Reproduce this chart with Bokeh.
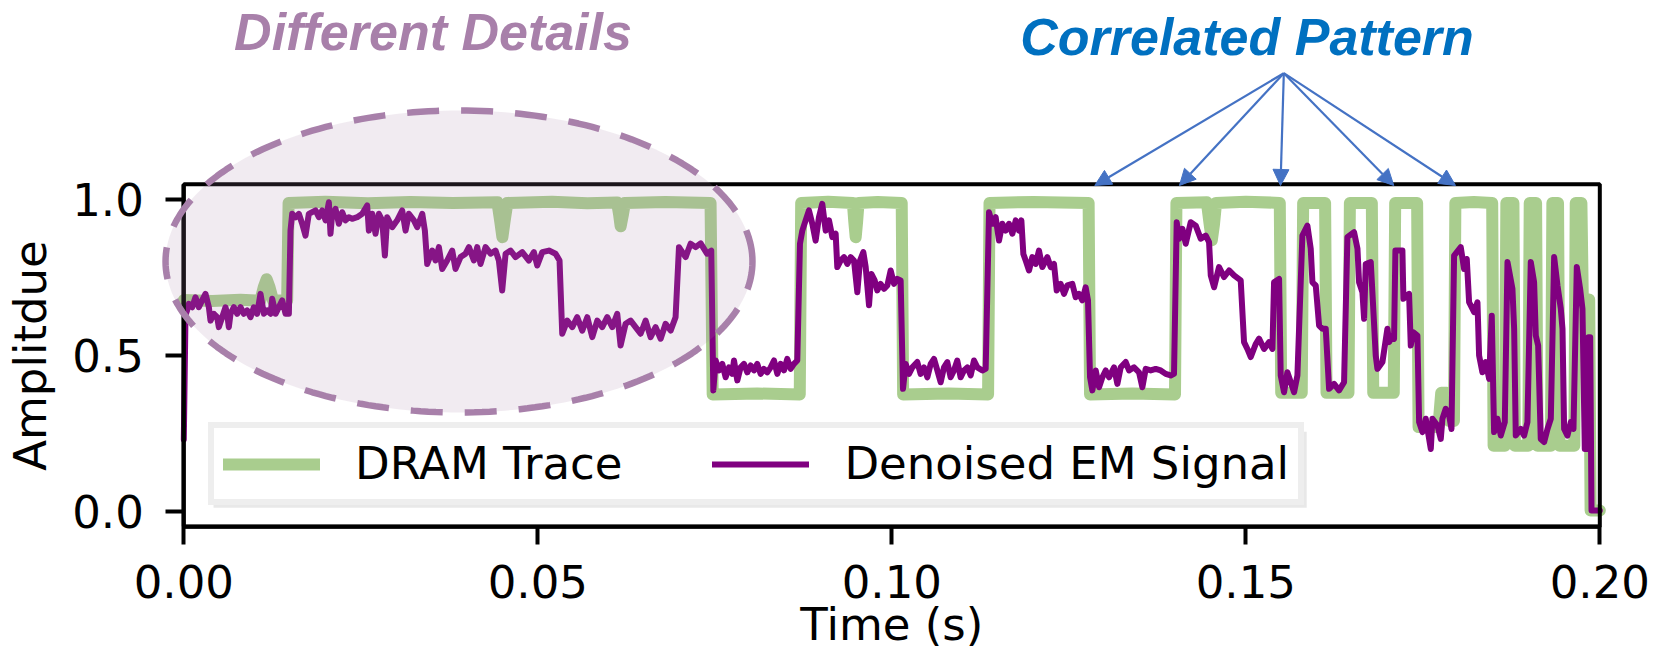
import numpy as np
from bokeh.plotting import figure
from bokeh.models import (Range1d, FixedTicker, Legend, LegendItem, Label, Arrow,
                          NormalHead, PolyAnnotation, BoxAnnotation, NumeralTickFormatter)
from bokeh.embed import file_html
from bokeh.resources import INLINE

# ---------------- data ----------------
DRAM_POINTS = [
    (0.0000, 0.678), (0.0040, 0.675), (0.0080, 0.679), (0.0108, 0.676), (0.0113, 0.720),
    (0.0117, 0.745), (0.0121, 0.720), (0.0126, 0.677), (0.0146, 0.677), (0.0148, 0.990),
    (0.0200, 0.994), (0.0260, 0.989), (0.0320, 0.993), (0.0380, 0.990), (0.0443, 0.992),
    (0.0447, 0.930), (0.0450, 0.880), (0.0453, 0.930), (0.0457, 0.990), (0.0520, 0.994),
    (0.0570, 0.989), (0.0612, 0.991), (0.0615, 0.950), (0.0617, 0.915), (0.0620, 0.950),
    (0.0623, 0.990), (0.0680, 0.993), (0.0744, 0.990), (0.0747, 0.375), (0.0810, 0.378),
    (0.0870, 0.375), (0.0872, 0.990), (0.0910, 0.994), (0.0945, 0.990), (0.0947, 0.930),
    (0.0949, 0.880), (0.0951, 0.930), (0.0953, 0.990), (0.0980, 0.993), (0.1014, 0.990),
    (0.1016, 0.375), (0.1080, 0.378), (0.1136, 0.375), (0.1138, 0.990), (0.1200, 0.993),
    (0.1278, 0.990), (0.1280, 0.375), (0.1340, 0.378), (0.1400, 0.375), (0.1402, 0.990),
    (0.1445, 0.992), (0.1449, 0.920), (0.1452, 0.870), (0.1455, 0.920), (0.1458, 0.990),
    (0.1500, 0.994), (0.1548, 0.990), (0.1550, 0.380), (0.1579, 0.380), (0.1581, 0.990),
    (0.1612, 0.990), (0.1614, 0.380), (0.1645, 0.380), (0.1647, 0.990), (0.1678, 0.990),
    (0.1680, 0.380), (0.1709, 0.380), (0.1711, 0.990), (0.1742, 0.990), (0.1744, 0.270),
    (0.1772, 0.270), (0.1776, 0.380), (0.1784, 0.380), (0.1787, 0.290), (0.1794, 0.290),
    (0.1796, 0.990), (0.1822, 0.993), (0.1848, 0.990), (0.1850, 0.210), (0.1866, 0.210),
    (0.1868, 0.990), (0.1878, 0.990), (0.1880, 0.210), (0.1899, 0.210), (0.1901, 0.990),
    (0.1910, 0.990), (0.1912, 0.210), (0.1931, 0.210), (0.1933, 0.990), (0.1941, 0.990),
    (0.1943, 0.210), (0.1964, 0.210), (0.1966, 0.990), (0.1974, 0.990), (0.1976, 0.680),
    (0.1985, 0.680), (0.1987, 0.002), (0.2000, 0.002),
]

EM_POINTS = [
    (0.00000, 0.230), (0.00024, 0.630), (0.00047, 0.645), (0.00071, 0.666), (0.00118, 0.655),
    (0.00165, 0.687), (0.00212, 0.655), (0.00259, 0.677), (0.00306, 0.698), (0.00354, 0.655),
    (0.00377, 0.612), (0.00424, 0.634), (0.00471, 0.623), (0.00495, 0.591), (0.00542, 0.623),
    (0.00589, 0.655), (0.00612, 0.634), (0.00636, 0.591), (0.00660, 0.634), (0.00707, 0.655),
    (0.00754, 0.634), (0.00801, 0.655), (0.00848, 0.634), (0.00895, 0.645), (0.00942, 0.623),
    (0.00989, 0.655), (0.01036, 0.634), (0.01083, 0.698), (0.01131, 0.634), (0.01178, 0.645),
    (0.01225, 0.634), (0.01249, 0.682), (0.01296, 0.634), (0.01343, 0.655), (0.01390, 0.677),
    (0.01437, 0.634), (0.01484, 0.634), (0.01507, 0.901), (0.01531, 0.955), (0.01578, 0.944),
    (0.01625, 0.955), (0.01672, 0.923), (0.01719, 0.885), (0.01766, 0.955), (0.01861, 0.966),
    (0.01908, 0.944), (0.01955, 0.966), (0.02002, 0.934), (0.02049, 0.992), (0.02072, 0.891),
    (0.02096, 0.955), (0.02143, 0.971), (0.02190, 0.923), (0.02237, 0.960), (0.02284, 0.934),
    (0.02331, 0.944), (0.02378, 0.939), (0.02449, 0.944), (0.02520, 0.955), (0.02590, 0.982),
    (0.02614, 0.901), (0.02661, 0.955), (0.02708, 0.891), (0.02755, 0.955), (0.02802, 0.934),
    (0.02840, 0.821), (0.02873, 0.944), (0.02944, 0.912), (0.03014, 0.934), (0.03085, 0.966),
    (0.03132, 0.901), (0.03179, 0.955), (0.03250, 0.934), (0.03297, 0.912), (0.03368, 0.955),
    (0.03405, 0.901), (0.03438, 0.794), (0.03509, 0.837), (0.03556, 0.805), (0.03603, 0.848),
    (0.03650, 0.778), (0.03720, 0.805), (0.03791, 0.837), (0.03838, 0.778), (0.03909, 0.816),
    (0.03980, 0.827), (0.04027, 0.848), (0.04097, 0.805), (0.04144, 0.848), (0.04191, 0.794),
    (0.04262, 0.848), (0.04333, 0.827), (0.04403, 0.837), (0.04450, 0.805), (0.04497, 0.709),
    (0.04545, 0.827), (0.04615, 0.837), (0.04686, 0.816), (0.04780, 0.832), (0.04874, 0.805),
    (0.04945, 0.832), (0.04992, 0.789), (0.05063, 0.832), (0.05157, 0.837), (0.05251, 0.827),
    (0.05307, 0.805), (0.05345, 0.570), (0.05416, 0.612), (0.05487, 0.591), (0.05557, 0.623),
    (0.05628, 0.580), (0.05699, 0.623), (0.05769, 0.559), (0.05840, 0.612), (0.05910, 0.591),
    (0.05981, 0.623), (0.06052, 0.591), (0.06122, 0.634), (0.06169, 0.532), (0.06240, 0.602),
    (0.06311, 0.612), (0.06381, 0.591), (0.06452, 0.570), (0.06523, 0.612), (0.06593, 0.559),
    (0.06664, 0.591), (0.06735, 0.554), (0.06805, 0.602), (0.06876, 0.580), (0.06946, 0.623),
    (0.06994, 0.848), (0.07088, 0.816), (0.07158, 0.859), (0.07229, 0.848), (0.07300, 0.860),
    (0.07390, 0.827), (0.07450, 0.837), (0.07479, 0.388), (0.07512, 0.484), (0.07559, 0.452),
    (0.07606, 0.473), (0.07653, 0.430), (0.07700, 0.462), (0.07747, 0.441), (0.07771, 0.484),
    (0.07818, 0.420), (0.07865, 0.462), (0.07912, 0.473), (0.07959, 0.446), (0.08006, 0.468),
    (0.08053, 0.452), (0.08100, 0.473), (0.08147, 0.441), (0.08194, 0.457), (0.08241, 0.446),
    (0.08289, 0.462), (0.08336, 0.484), (0.08383, 0.441), (0.08430, 0.473), (0.08477, 0.452),
    (0.08524, 0.489), (0.08571, 0.457), (0.08618, 0.473), (0.08665, 0.484), (0.08703, 0.859),
    (0.08736, 0.901), (0.08783, 0.934), (0.08830, 0.966), (0.08877, 0.923), (0.08924, 0.869),
    (0.08971, 0.944), (0.09018, 0.987), (0.09066, 0.901), (0.09113, 0.934), (0.09160, 0.880),
    (0.09207, 0.891), (0.09230, 0.784), (0.09277, 0.805), (0.09325, 0.816), (0.09372, 0.794),
    (0.09419, 0.816), (0.09466, 0.805), (0.09513, 0.703), (0.09551, 0.805), (0.09598, 0.832),
    (0.09631, 0.784), (0.09678, 0.661), (0.09711, 0.762), (0.09758, 0.741), (0.09795, 0.709),
    (0.09842, 0.730), (0.09890, 0.714), (0.09937, 0.725), (0.09984, 0.773), (0.10031, 0.730),
    (0.10078, 0.746), (0.10125, 0.741), (0.10158, 0.393), (0.10196, 0.473), (0.10243, 0.441),
    (0.10290, 0.462), (0.10360, 0.479), (0.10407, 0.441), (0.10455, 0.462), (0.10502, 0.430),
    (0.10549, 0.473), (0.10596, 0.489), (0.10643, 0.452), (0.10690, 0.414), (0.10737, 0.462),
    (0.10784, 0.479), (0.10831, 0.430), (0.10878, 0.452), (0.10925, 0.484), (0.10972, 0.430),
    (0.11020, 0.452), (0.11067, 0.462), (0.11114, 0.436), (0.11161, 0.484), (0.11208, 0.462),
    (0.11279, 0.452), (0.11326, 0.457), (0.11373, 0.960), (0.11420, 0.923), (0.11467, 0.944),
    (0.11514, 0.869), (0.11561, 0.923), (0.11608, 0.901), (0.11655, 0.923), (0.11703, 0.891),
    (0.11750, 0.934), (0.11797, 0.901), (0.11830, 0.934), (0.11858, 0.826), (0.11891, 0.805),
    (0.11938, 0.773), (0.11985, 0.816), (0.12032, 0.794), (0.12079, 0.837), (0.12126, 0.784),
    (0.12197, 0.816), (0.12244, 0.784), (0.12291, 0.794), (0.12329, 0.709), (0.12385, 0.730),
    (0.12432, 0.698), (0.12479, 0.725), (0.12550, 0.730), (0.12597, 0.687), (0.12644, 0.698),
    (0.12691, 0.677), (0.12738, 0.719), (0.12771, 0.677), (0.12800, 0.430), (0.12833, 0.388),
    (0.12880, 0.452), (0.12927, 0.398), (0.12974, 0.430), (0.13021, 0.452), (0.13068, 0.430),
    (0.13139, 0.462), (0.13186, 0.409), (0.13233, 0.462), (0.13304, 0.479), (0.13351, 0.452),
    (0.13421, 0.462), (0.13492, 0.446), (0.13539, 0.398), (0.13586, 0.457), (0.13657, 0.452),
    (0.13727, 0.457), (0.13798, 0.452), (0.13869, 0.441), (0.13939, 0.436), (0.13986, 0.441),
    (0.14024, 0.928), (0.14057, 0.875), (0.14104, 0.907), (0.14151, 0.859), (0.14222, 0.928),
    (0.14293, 0.917), (0.14363, 0.875), (0.14434, 0.885), (0.14481, 0.864), (0.14505, 0.757),
    (0.14552, 0.719), (0.14622, 0.784), (0.14693, 0.752), (0.14764, 0.773), (0.14834, 0.757),
    (0.14928, 0.741), (0.14975, 0.543), (0.15022, 0.521), (0.15070, 0.495), (0.15140, 0.537),
    (0.15187, 0.554), (0.15258, 0.521), (0.15329, 0.543), (0.15376, 0.521), (0.15399, 0.735),
    (0.15470, 0.746), (0.15493, 0.436), (0.15540, 0.382), (0.15587, 0.446), (0.15635, 0.414),
    (0.15682, 0.382), (0.15729, 0.436), (0.15799, 0.885), (0.15870, 0.917), (0.15917, 0.843),
    (0.15941, 0.735), (0.15988, 0.725), (0.16035, 0.596), (0.16082, 0.586), (0.16129, 0.586),
    (0.16176, 0.393), (0.16247, 0.409), (0.16317, 0.388), (0.16388, 0.414), (0.16435, 0.880),
    (0.16529, 0.896), (0.16577, 0.843), (0.16600, 0.735), (0.16647, 0.703), (0.16671, 0.618),
    (0.16694, 0.794), (0.16765, 0.800), (0.16788, 0.703), (0.16835, 0.500), (0.16859, 0.457),
    (0.16930, 0.479), (0.17000, 0.586), (0.17024, 0.543), (0.17071, 0.564), (0.17094, 0.553),
    (0.17113, 0.837), (0.17212, 0.837), (0.17226, 0.682), (0.17306, 0.698), (0.17330, 0.532),
    (0.17363, 0.575), (0.17424, 0.564), (0.17448, 0.286), (0.17495, 0.254), (0.17542, 0.297),
    (0.17613, 0.200), (0.17636, 0.297), (0.17707, 0.275), (0.17754, 0.232), (0.17777, 0.297),
    (0.17824, 0.329), (0.17872, 0.307), (0.17905, 0.264), (0.17942, 0.821), (0.18036, 0.848),
    (0.18083, 0.778), (0.18121, 0.810), (0.18154, 0.671), (0.18225, 0.639), (0.18272, 0.671),
    (0.18295, 0.500), (0.18342, 0.446), (0.18389, 0.479), (0.18437, 0.425), (0.18474, 0.628),
    (0.18507, 0.254), (0.18554, 0.297), (0.18601, 0.243), (0.18658, 0.286), (0.18696, 0.800),
    (0.18766, 0.714), (0.18790, 0.586), (0.18813, 0.243), (0.18884, 0.264), (0.18931, 0.243),
    (0.18978, 0.286), (0.19025, 0.800), (0.19072, 0.735), (0.19096, 0.564), (0.19129, 0.532),
    (0.19166, 0.232), (0.19214, 0.222), (0.19261, 0.264), (0.19308, 0.297), (0.19355, 0.816),
    (0.19402, 0.725), (0.19449, 0.650), (0.19473, 0.586), (0.19496, 0.264), (0.19543, 0.243),
    (0.19590, 0.286), (0.19628, 0.264), (0.19675, 0.784), (0.19722, 0.714), (0.19755, 0.650),
    (0.19788, 0.200), (0.19826, 0.200), (0.19840, 0.559), (0.19864, 0.559), (0.19883, 0.002),
    (0.20000, 0.002),
]

X_TICKS = [0.0, 0.05, 0.10, 0.15, 0.20]
X_TICK_LABELS = ["0.00", "0.05", "0.10", "0.15", "0.20"]
Y_TICKS = [0.0, 0.5, 1.0]
Y_TICK_LABELS = ["0.0", "0.5", "1.0"]
SERIES_LABELS = ["DRAM Trace", "Denoised EM Signal"]

# axes box (data) and the visible window around it (the whole canvas is the frame,
# so the annotations above/left of the axes box are not clipped)
X_DATA = (0.0, 0.2)
Y_DATA = (-0.05, 1.05)
X_VIEW = (-0.02589, 0.20716)
Y_VIEW = (-0.44091, 1.64001)

# annotations (data coordinates, text anchored at its vertical middle)
ARROW_TIPS_T = [0.12867, 0.14063, 0.15490, 0.17090, 0.17962]
ARROW_TIP_V = 1.046
ARROW_ORIGIN = (0.15537, 1.4066)
ELLIPSE_CENTER = (0.03887, 0.8019)
ELLIPSE_SIZE = (0.0829, 0.9698)
LEGEND_SHADOW = dict(left=0.0042, right=0.1586, top=0.2550, bottom=0.0110)
TEXT_DIFF_POS = (0.0352, 1.5392)
TEXT_CORR_POS = (0.15017, 1.5231)
XLABEL_POS = (0.1, -0.3626)

# ---------------- styles ----------------
GREEN = "#a9cd8e"
PURPLE = "#800080"
MAUVE = "#a880aa"
BLUE_TXT = "#0070c0"
ARROW_BLUE = "#4472c4"
FONT = "DejaVu Sans"
FS = "45px"

dram_t, dram_v = map(list, zip(*DRAM_POINTS))
em_t, em_v = map(list, zip(*EM_POINTS))

p = figure(width=1650, height=648, title=None,
           x_range=Range1d(*X_VIEW), y_range=Range1d(*Y_VIEW),
           output_backend="svg", toolbar_location=None, min_border=0)
p.background_fill_color = "white"
p.border_fill_color = "white"
p.outline_line_color = None
p.xgrid.visible = False
p.ygrid.visible = False

# legend shadow (under everything)
p.add_layout(BoxAnnotation(**LEGEND_SHADOW, fill_color="#e8e8e8", fill_alpha=1.0,
                           line_color=None, level="underlay"))

g_line = p.line(dram_t, dram_v, line_color=GREEN, line_width=12,
                line_join="round", line_cap="round")
p_line = p.line(em_t, em_v, line_color=PURPLE, line_width=6,
                line_join="round", line_cap="round")

for ax in (p.xaxis[0], p.yaxis[0]):
    ax.axis_line_width = 4
    ax.major_tick_line_width = 4
    ax.major_tick_in = 0
    ax.major_tick_out = 18
    ax.minor_tick_line_color = None
    ax.major_label_text_font = FONT
    ax.major_label_text_font_size = FS
    ax.major_label_text_color = "black"

p.xaxis.fixed_location = Y_DATA[0]
p.xaxis.bounds = X_DATA
p.xaxis.ticker = FixedTicker(ticks=X_TICKS)
p.xaxis.formatter = NumeralTickFormatter(format="0.00")
p.xaxis.major_label_overrides = dict(zip(X_TICKS, X_TICK_LABELS))
p.xaxis.major_label_standoff = 20

p.yaxis.fixed_location = X_DATA[0]
p.yaxis.bounds = Y_DATA
p.yaxis.ticker = FixedTicker(ticks=Y_TICKS)
p.yaxis.formatter = NumeralTickFormatter(format="0.0")
p.yaxis.major_label_overrides = dict(zip(Y_TICKS, Y_TICK_LABELS))
p.yaxis.major_label_standoff = 22
p.yaxis.axis_label = "Amplitdue"
p.yaxis.axis_label_text_font = FONT
p.yaxis.axis_label_text_font_size = FS
p.yaxis.axis_label_text_font_style = "normal"
p.yaxis.axis_label_text_color = "black"
p.yaxis.axis_label_standoff = 12

# top / right spines of the axes box
p.add_layout(BoxAnnotation(left=X_DATA[0], right=X_DATA[1], bottom=Y_DATA[0], top=Y_DATA[1],
                           fill_color=None, line_color="black", line_alpha=1.0,
                           line_width=4))

p.add_layout(Label(x=XLABEL_POS[0], y=XLABEL_POS[1], text="Time (s)", text_font=FONT,
                   text_font_size=FS, text_align="center",
                   text_baseline="middle", text_color="black"))

legend = Legend(items=[LegendItem(label=SERIES_LABELS[0], renderers=[g_line]),
                       LegendItem(label=SERIES_LABELS[1], renderers=[p_line])],
                orientation="horizontal", location=(208, 143), margin=0,
                padding=9, spacing=90, glyph_width=97, glyph_height=50,
                label_height=50, label_standoff=35,
                label_text_font=FONT, label_text_font_size=FS,
                label_text_color="black",
                border_line_color="#dddddd", border_line_width=6,
                background_fill_color="white", background_fill_alpha=1.0)
p.add_layout(legend)

# ellipse highlighting the "Different Details" region
theta = np.linspace(0, 2 * np.pi, 241)
ex = ELLIPSE_CENTER[0] + ELLIPSE_SIZE[0] / 2 * np.cos(theta)
ey = ELLIPSE_CENTER[1] + ELLIPSE_SIZE[1] / 2 * np.sin(theta)
p.add_layout(PolyAnnotation(xs=list(ex), ys=list(ey), fill_color=MAUVE, fill_alpha=0.16,
                            line_color=MAUVE, line_width=6.5, line_dash="32 22",
                            line_alpha=1.0))

p.add_layout(Label(x=TEXT_DIFF_POS[0], y=TEXT_DIFF_POS[1], text="Different Details",
                   text_font="Liberation Sans", text_font_style="bold italic",
                   text_font_size="52px", text_color=MAUVE,
                   text_align="center", text_baseline="middle"))
p.add_layout(Label(x=TEXT_CORR_POS[0], y=TEXT_CORR_POS[1], text="Correlated Pattern",
                   text_font="Liberation Sans", text_font_style="bold italic",
                   text_font_size="52px", text_color=BLUE_TXT,
                   text_align="center", text_baseline="middle"))

for tip in ARROW_TIPS_T:
    p.add_layout(Arrow(end=NormalHead(size=16, fill_color=ARROW_BLUE,
                                      line_color=ARROW_BLUE, line_width=1),
                       x_start=ARROW_ORIGIN[0], y_start=ARROW_ORIGIN[1],
                       x_end=tip, y_end=ARROW_TIP_V,
                       line_color=ARROW_BLUE, line_width=2.2))

open("out.html", "w").write(file_html(p, INLINE))
